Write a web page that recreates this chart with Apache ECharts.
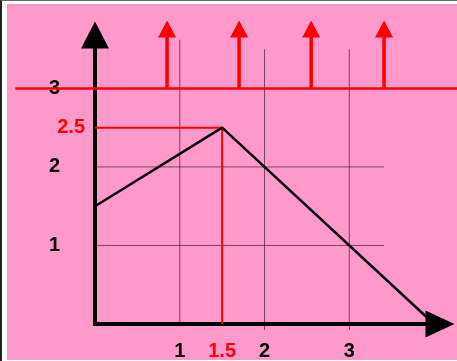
<!DOCTYPE html>
<html>
<head>
<meta charset="utf-8">
<script src="https://cdn.jsdelivr.net/npm/echarts@6/dist/echarts.min.js"></script>
<style>
  html, body { margin: 0; padding: 0; background: #fff; }
  #frame { position: absolute; left: 0; top: 0; width: 457px; height: 361px; box-sizing: border-box;
           border-left: 2px solid #222; border-top: 1px solid #666; }
  #paper { position: absolute; left: 7px; top: 4px; width: 450px; height: 356px; background: #ff99cc; }
  #chart { position: absolute; left: 0; top: 0; width: 457px; height: 361px; }
</style>
</head>
<body>
<div id="frame"></div>
<div id="paper"></div>
<div id="chart"></div>
<script>
// axis labels
const xLabels = [1, 1.5, 2, 3];
const yLabels = [1, 2, 2.5, 3];
const xRed = [1.5];
const yRed = [2.5];
const xTicks = [2, 3];

// light grid (partial lines)
const xGrid = [1, 2, 3];
const xGridTops = [3.62, 3.5, 3.5];
const yGrid = [1, 2];
const yGridEnd = 3.41;

// black curve and red guides
const curve = [[0, 1.5], [1.5, 2.5], [4, 0]];
const guide = [[0, 2.5], [1.5, 2.5], [1.5, 0]];

// red impulse row at level 3
const pulseLevel = 3;
const pulseLine = [-0.94, 4.3];
const pulseXs = [0.85, 1.7, 2.55, 3.41];
const pulseTop = 3.755;

const FONT = 'Liberation Sans, Arial, sans-serif';
const GRID_COLOR = 'rgba(0,0,0,0.55)';
const RED = '#ff0000';

const chart = echarts.init(document.getElementById('chart'), null, { renderer: 'canvas' });

const plain = (data, color, width, z) => ({
  type: 'line',
  data: data,
  symbol: 'none',
  silent: true,
  clip: false,
  z: z,
  lineStyle: { color: color, width: width },
  animation: false,
});

const series = [];
xGrid.forEach((x, i) => series.push(plain([[x, 0], [x, xGridTops[i]]], GRID_COLOR, 1, 1)));
yGrid.forEach(y => series.push(plain([[0, y], [yGridEnd, y]], GRID_COLOR, 1, 1)));
series.push(plain(guide, RED, 2, 2));
series.push(plain(curve, '#000', 2.5, 3));
pulseXs.forEach(x => series.push({
  type: 'line',
  data: [
    { value: [x, pulseLevel], symbol: 'none' },
    { value: [x, pulseTop], symbol: 'triangle', symbolSize: [18, 17] },
  ],
  showSymbol: true,
  symbol: 'triangle',
  symbolSize: [18, 17],
  silent: true,
  clip: false,
  z: 2,
  itemStyle: { color: RED, borderWidth: 0 },
  lineStyle: { color: RED, width: 3.5 },
  animation: false,
}));

chart.setOption({
  animation: false,
  backgroundColor: 'transparent',
  grid: { left: 95, right: 17, top: 35, bottom: 36 },
  xAxis: {
    type: 'value',
    min: 0,
    max: 4.07,
    splitLine: { show: false },
    axisLine: {
      show: true,
      symbol: ['none', 'triangle'],
      symbolSize: [27, 29],
      lineStyle: { color: '#000', width: 4, cap: 'square' },
    },
    axisTick: { show: true, customValues: xTicks, length: 6, lineStyle: { color: GRID_COLOR, width: 1 } },
    axisLabel: {
      customValues: xLabels,
      margin: 17,
      color: '#000',
      fontFamily: FONT,
      fontSize: 20,
      fontWeight: 'bold',
      formatter: v => xRed.includes(v) ? '{r|' + v + '}' : '{b|' + v + '}',
      rich: {
        b: { color: '#000', fontFamily: FONT, fontSize: 20, fontWeight: 'bold' },
        r: { color: RED, fontFamily: FONT, fontSize: 20, fontWeight: 'bold' },
      },
    },
  },
  yAxis: {
    type: 'value',
    min: 0,
    max: 3.68,
    splitLine: { show: false },
    axisLine: {
      show: true,
      symbol: ['none', 'triangle'],
      symbolSize: [28, 27],
      lineStyle: { color: '#000', width: 4, cap: 'square' },
    },
    axisTick: { show: false },
    axisLabel: {
      customValues: yLabels,
      margin: 10,
      color: '#000',
      fontFamily: FONT,
      fontSize: 20,
      fontWeight: 'bold',
      formatter: v => yRed.includes(v) ? '{r|' + v + '}' : '{b|' + v + '}',
      rich: {
        b: { color: '#000', fontFamily: FONT, fontSize: 20, fontWeight: 'bold', padding: [0, 25, 0, 0] },
        r: { color: RED, fontFamily: FONT, fontSize: 20, fontWeight: 'bold' },
      },
    },
  },
  series: series,
});

// the level-3 line runs past both ends of the plot, so place it through the grid's scale
const p0 = chart.convertToPixel({ gridIndex: 0 }, [pulseLine[0], pulseLevel]);
const p1 = chart.convertToPixel({ gridIndex: 0 }, [pulseLine[1], pulseLevel]);
chart.setOption({
  graphic: [{
    type: 'line',
    silent: true,
    z: 2,
    shape: { x1: p0[0], y1: p0[1], x2: p1[0], y2: p1[1] },
    style: { stroke: RED, lineWidth: 2.5 },
  }],
});
</script>
</body>
</html>
